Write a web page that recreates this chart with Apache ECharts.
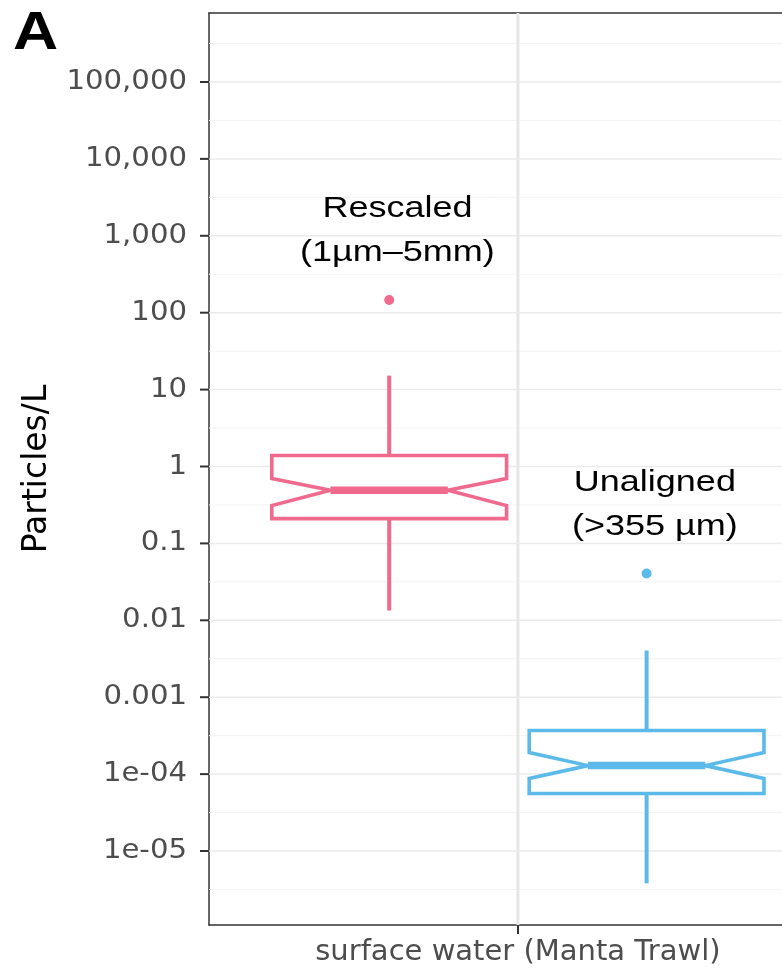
<!DOCTYPE html>
<html>
<head>
<meta charset="utf-8">
<script src="https://cdn.jsdelivr.net/npm/echarts@6/dist/echarts.min.js"></script>
<style>
  html, body { margin: 0; padding: 0; background: #fff; }
  #chart { width: 782px; height: 968px; }
</style>
</head>
<body>
<div id="chart"></div>
<script>
// data (Particles/L, log scale)
var categories = ['surface water (Manta Trawl)'];
var groupNames = ['Rescaled', 'Unaligned'];
var groupRanges = ['(1µm–5mm)', '(>355 µm)'];
var whiskerLow = [0.0134, 3.8e-6];
var q1 = [0.21, 5.6e-5];
var notchLow = [0.31, 8.8e-5];
var median = [0.49, 1.29e-4];
var notchHigh = [0.70, 1.91e-4];
var q3 = [1.39, 3.69e-4];
var whiskerHigh = [15.2, 4.05e-3];
var outlierValues = [146, 0.0406];

var yTickValues = [1e-5, 1e-4, 0.001, 0.01, 0.1, 1, 10, 100, 1000, 10000, 100000];
var yTickLabels = ['1e-05', '1e-04', '0.001', '0.01', '0.1', '1', '10', '100', '1,000', '10,000', '100,000'];

var groupColors = ['#ef6a8c', '#5bbaea'];

var boxData = groupNames.map(function (name, i) {
  return [0, i, whiskerLow[i], q1[i], notchLow[i], median[i], notchHigh[i], q3[i], whiskerHigh[i], outlierValues[i]];
});

// ggplot puts minor grid lines half way between decades
var minorValues = [yTickValues[0] / Math.sqrt(10)].concat(yTickValues.map(function (v) {
  return v * Math.sqrt(10);
}));

function renderMajor(params, api) {
  var cs = params.coordSys;
  var p = api.coord([0, api.value(1)]);
  var children = [
    {
      type: 'line',
      shape: { x1: cs.x, y1: p[1], x2: cs.x + cs.width, y2: p[1] },
      style: { stroke: '#ebebeb', lineWidth: 1.5 }
    },
    {
      type: 'line',
      shape: { x1: cs.x - 9, y1: p[1], x2: cs.x, y2: p[1] },
      style: { stroke: '#333', lineWidth: 2 }
    },
    {
      type: 'text',
      x: cs.x - 22,
      y: p[1],
      scaleX: 1.08,
      style: {
        text: yTickLabels[params.dataIndex],
        align: 'right',
        verticalAlign: 'middle',
        fill: '#4d4d4d',
        font: '27px "DejaVu Sans", sans-serif'
      }
    }
  ];
  if (params.dataIndex === 0) {
    // vertical major grid line at the category
    children.unshift({
      type: 'line',
      shape: { x1: p[0], y1: cs.y, x2: p[0], y2: cs.y + cs.height },
      style: { stroke: '#e6e6e6', lineWidth: 3 }
    });
  }
  return { type: 'group', children: children };
}

function renderMinor(params, api) {
  var cs = params.coordSys;
  var p = api.coord([0, api.value(1)]);
  if (p[1] < cs.y || p[1] > cs.y + cs.height) return null;
  return {
    type: 'line',
    shape: { x1: cs.x, y1: p[1], x2: cs.x + cs.width, y2: p[1] },
    style: { stroke: '#f2f2f2', lineWidth: 1 }
  };
}

function renderBox(params, api) {
  var g = api.value(1);
  var xv = api.value(0);
  var unit = api.coord([xv + 1, 1])[0] - api.coord([xv, 1])[0];
  var cx = api.coord([xv, 1])[0] + (g === 0 ? -1 : 1) * unit * 0.25;
  var half = unit * 0.228;
  var nw = half * 0.5;
  var xl = cx - half;
  var xr = cx + half;
  function y(i) {
    return api.coord([xv, api.value(i)])[1];
  }
  var color = groupColors[g];
  var lw = 3.6;
  var yWl = y(2), yQ1 = y(3), yNl = y(4), yMed = y(5), yNh = y(6), yQ3 = y(7), yWh = y(8), yOut = y(9);

  return {
    type: 'group',
    children: [
      {
        type: 'line',
        shape: { x1: cx, y1: yQ3, x2: cx, y2: yWh },
        style: { stroke: color, lineWidth: 4 }
      },
      {
        type: 'line',
        shape: { x1: cx, y1: yQ1, x2: cx, y2: yWl },
        style: { stroke: color, lineWidth: 4 }
      },
      {
        type: 'polygon',
        shape: {
          points: [
            [xl, yQ3], [xl, yNh], [xl + nw, yMed], [xl, yNl], [xl, yQ1],
            [xr, yQ1], [xr, yNl], [xr - nw, yMed], [xr, yNh], [xr, yQ3]
          ]
        },
        style: { fill: '#fff', stroke: color, lineWidth: lw, lineJoin: 'miter' }
      },
      {
        type: 'line',
        shape: { x1: xl + nw, y1: yMed, x2: xr - nw, y2: yMed },
        style: { stroke: color, lineWidth: 7.5 }
      },
      {
        type: 'circle',
        shape: { cx: cx, cy: yOut, r: 5 },
        style: { fill: color }
      },
      {
        type: 'text',
        x: cx + unit * 0.016,
        y: yOut - 25,
        scaleX: 1.2,
        style: {
          text: groupNames[g] + '\n' + groupRanges[g],
          x: 0,
          y: 0,
          fill: '#000',
          font: '30px "Liberation Sans", Arial, sans-serif',
          lineHeight: 44,
          align: 'center',
          verticalAlign: 'bottom'
        }
      }
    ]
  };
}

var chart = echarts.init(document.getElementById('chart'));

chart.setOption({
  animation: false,
  backgroundColor: '#fff',
  graphic: [
    {
      type: 'text',
      left: 13,
      top: 8,
      scaleX: 1.18,
      style: {
        text: 'A',
        fill: '#000',
        font: 'bold 53px "Liberation Sans", Arial, sans-serif'
      }
    }
  ],
  grid: {
    left: 209,
    top: 13,
    bottom: 43,
    right: 0
  },
  xAxis: [
    {
      type: 'value',
      min: -0.6,
      max: 0.513,
      interval: 0.6,
      axisLine: { show: true, onZero: false, lineStyle: { color: '#333', width: 1.5 } },
      axisTick: { show: true, customValues: [0], length: 9, lineStyle: { color: '#333', width: 2 } },
      axisLabel: {
        customValues: [0],
        color: '#4d4d4d',
        fontFamily: 'DejaVu Sans',
        fontSize: 29,
        margin: 13,
        formatter: function (value) {
          return categories[Math.round(value)] || '';
        }
      },
      splitLine: { show: false }
    },
    {
      type: 'value',
      position: 'top',
      min: -0.6,
      max: 0.513,
      axisLine: { show: true, onZero: false, lineStyle: { color: '#333', width: 1.5 } },
      axisTick: { show: false },
      axisLabel: { show: false },
      splitLine: { show: false }
    }
  ],
  yAxis: {
    type: 'log',
    logBase: 10,
    min: Math.pow(10, -5.962),
    max: Math.pow(10, 5.897),
    name: 'Particles/L',
    nameLocation: 'middle',
    nameRotate: 90,
    nameGap: 155,
    nameTextStyle: {
      color: '#000',
      fontFamily: 'DejaVu Sans',
      fontSize: 33
    },
    axisLine: { show: true, onZero: false, lineStyle: { color: '#333', width: 1.5 } },
    axisTick: { show: false },
    axisLabel: { show: false },
    splitLine: { show: false },
    minorSplitLine: { show: false }
  },
  series: [
    {
      name: 'minor grid',
      type: 'custom',
      z: 1,
      silent: true,
      renderItem: renderMinor,
      encode: { x: 0, y: 1 },
      data: minorValues.map(function (v) { return [0, v]; })
    },
    {
      name: 'major grid',
      type: 'custom',
      z: 1,
      silent: true,
      clip: false,
      renderItem: renderMajor,
      encode: { x: 0, y: 1 },
      data: yTickValues.map(function (v) { return [0, v]; })
    },
    {
      name: 'boxes',
      type: 'custom',
      z: 3,
      renderItem: renderBox,
      dimensions: ['x', 'group', 'wLow', 'q1', 'nLow', 'med', 'nHigh', 'q3', 'wHigh', 'out'],
      encode: { x: 0, y: [2, 3, 4, 5, 6, 7, 8, 9] },
      data: boxData
    }
  ]
});
</script>
</body>
</html>
